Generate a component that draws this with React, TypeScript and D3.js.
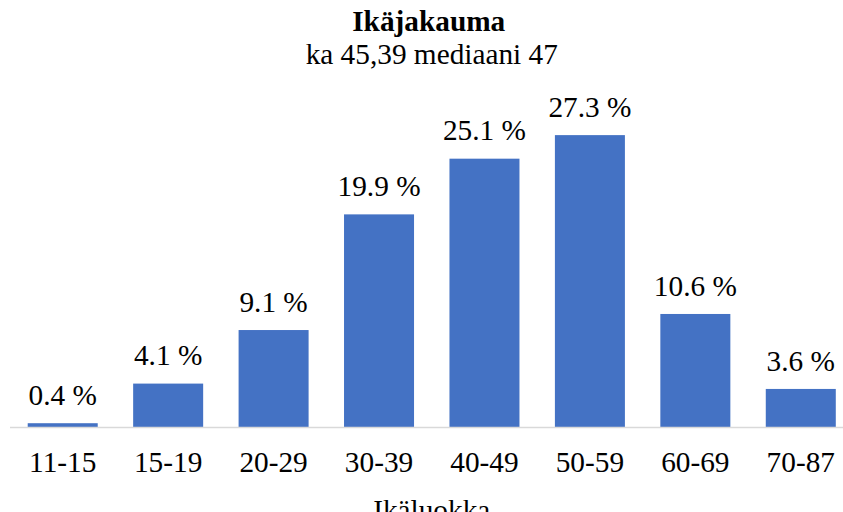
import React from "react";
import * as d3 from "d3";

const categories = ["11-15", "15-19", "20-29", "30-39", "40-49", "50-59", "60-69", "70-87"];
const values = [0.4, 4.1, 9.1, 19.9, 25.1, 27.3, 10.6, 3.6];
const valueLabels = ["0.4 %", "4.1 %", "9.1 %", "19.9 %", "25.1 %", "27.3 %", "10.6 %", "3.6 %"];
const title = "Ikäjakauma";
const subtitle = "ka 45,39 mediaani 47";
const axisTitle = "Ikäluokka";

const W = 843;
const H = 512;
const textStyle = { fontFamily: "Liberation Serif, Times New Roman, serif", fontSize: "29.3px" };

export default function App() {
  const x = d3.scaleBand<string>().domain(categories).range([10, 853.5]).paddingInner(0.336).paddingOuter(0.168);
  const y = d3.scaleLinear().domain([0, 30]).range([427.5, 106.2]);
  const cx = (10 + 853.5) / 2;
  return (
    <svg width={W} height={H} style={{ position: "absolute", left: 0, top: 0, background: "#fff" }}>
      <text x={cx - 3} y={31} textAnchor="middle" style={{ ...textStyle, fontWeight: "bold" }} fill="#000">{title}</text>
      <text x={cx} y={64} textAnchor="middle" style={textStyle} fill="#000">{subtitle}</text>
      {categories.map((c, i) => (
        <g key={c}>
          <rect x={x(c)} y={y(values[i])} width={x.bandwidth()} height={y(0) - y(values[i])} fill="#4472C4" />
          <text x={(x(c) as number) + x.bandwidth() / 2} y={y(values[i]) - 18.3} textAnchor="middle" style={textStyle} fill="#000">{valueLabels[i]}</text>
          <text x={(x(c) as number) + x.bandwidth() / 2} y={471.7} textAnchor="middle" style={textStyle} fill="#000">{c}</text>
        </g>
      ))}
      <line x1={10} x2={W} y1={y(0)} y2={y(0)} stroke="#d9d9d9" strokeWidth={1.5} />
      <text x={cx} y={520} textAnchor="middle" style={textStyle} fill="#000">{axisTitle}</text>
    </svg>
  );
}
